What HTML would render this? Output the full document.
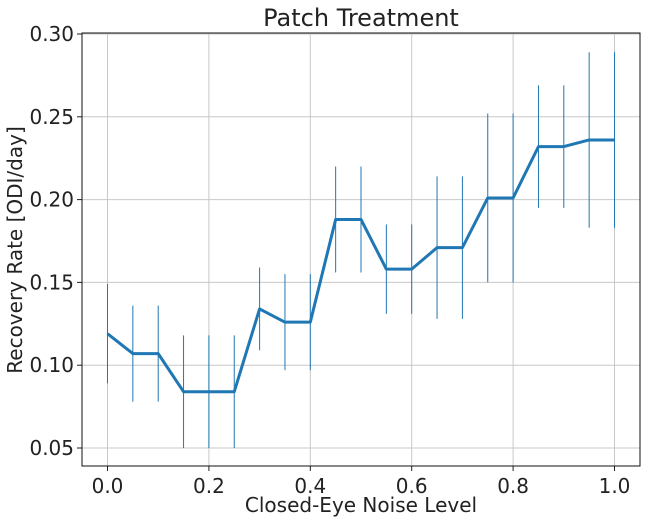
<!DOCTYPE html>
<html><head><meta charset="utf-8"><style>
body{margin:0;background:#fff;}
svg{display:block;font-family:"DejaVu Sans","Liberation Sans",sans-serif;}
</style></head><body>
<svg id="c" width="646" height="523"></svg>
<script>
const xs=[0,0.05,0.1,0.15,0.2,0.25,0.3,0.35,0.4,0.45,0.5,0.55,0.6,0.65,0.7,0.75,0.8,0.85,0.9,0.95,1.0];
const ys=[0.119,0.107,0.107,0.084,0.084,0.084,0.134,0.126,0.126,0.188,0.188,0.158,0.158,0.171,0.171,0.201,0.201,0.232,0.232,0.236,0.236];
const errs=[0.030,0.029,0.029,0.034,0.034,0.034,0.025,0.029,0.029,0.032,0.032,0.027,0.027,0.043,0.043,0.051,0.051,0.037,0.037,0.053,0.053];
const xticks=[0,0.2,0.4,0.6,0.8,1.0];
const xtickLabels=["0.0","0.2","0.4","0.6","0.8","1.0"];
const yticks=[0.05,0.10,0.15,0.20,0.25,0.30];
const ytickLabels=["0.05","0.10","0.15","0.20","0.25","0.30"];
const svg=document.getElementById('c');
const NS='http://www.w3.org/2000/svg';
const L=82,R=640,T=33,B=466;
const X=v=>107.5+v*507;
const Y=v=>448-(v-0.05)*(414/0.25);
function mk(tag,attrs,parent){const e=document.createElementNS(NS,tag);for(const k in attrs)e.setAttribute(k,attrs[k]);(parent||svg).appendChild(e);return e;}
xticks.forEach((v,i)=>{
 const g=mk('line',{x1:X(v),x2:X(v),y1:T,y2:B,stroke:'#c8c8c8','stroke-width':1});
 
 
 mk('line',{x1:X(v),x2:X(v),y1:B,y2:B+5,stroke:'#222'});
 const t=mk('text',{x:X(v),y:B+27,'text-anchor':'middle','font-size':20,fill:'#222'});
 t.textContent=xtickLabels[i];
 
 
});
yticks.forEach((v,i)=>{
 const g=mk('line',{x1:L,x2:R,y1:Y(v),y2:Y(v),stroke:'#c8c8c8','stroke-width':1});
 
 
 mk('line',{x1:L-5,x2:L,y1:Y(v),y2:Y(v),stroke:'#222'});
 const t=mk('text',{x:L-8,y:Y(v)+7,'text-anchor':'end','font-size':20,fill:'#222'});
 t.textContent=ytickLabels[i];
 
 
});
xs.forEach((x,i)=>{
 const e=mk('line',{x1:X(x),x2:X(x),y1:Y(ys[i]-errs[i]),y2:Y(ys[i]+errs[i]),stroke:'#1f77b4','stroke-width':1});
 
 
});
const p=mk('polyline',{points:xs.map((x,i)=>X(x)+','+Y(ys[i])).join(' '),fill:'none',stroke:'#1f77b4','stroke-width':3,'stroke-linejoin':'round'});


const fr=mk('rect',{x:L,y:T,width:R-L,height:B-T,fill:'none',stroke:'#111','stroke-width':1});


const tt=mk('text',{x:361,y:26,'text-anchor':'middle','font-size':24,fill:'#222'});
tt.textContent='Patch Treatment';


const xl=mk('text',{x:361,y:512,'text-anchor':'middle','font-size':20,fill:'#222'});
xl.textContent='Closed-Eye Noise Level';


const yl=mk('text',{x:0,y:0,'text-anchor':'middle','font-size':20,fill:'#222',transform:'translate(22,250) rotate(-90)'});
yl.textContent='Recovery Rate [ODI/day]';


</script>
</body></html>
